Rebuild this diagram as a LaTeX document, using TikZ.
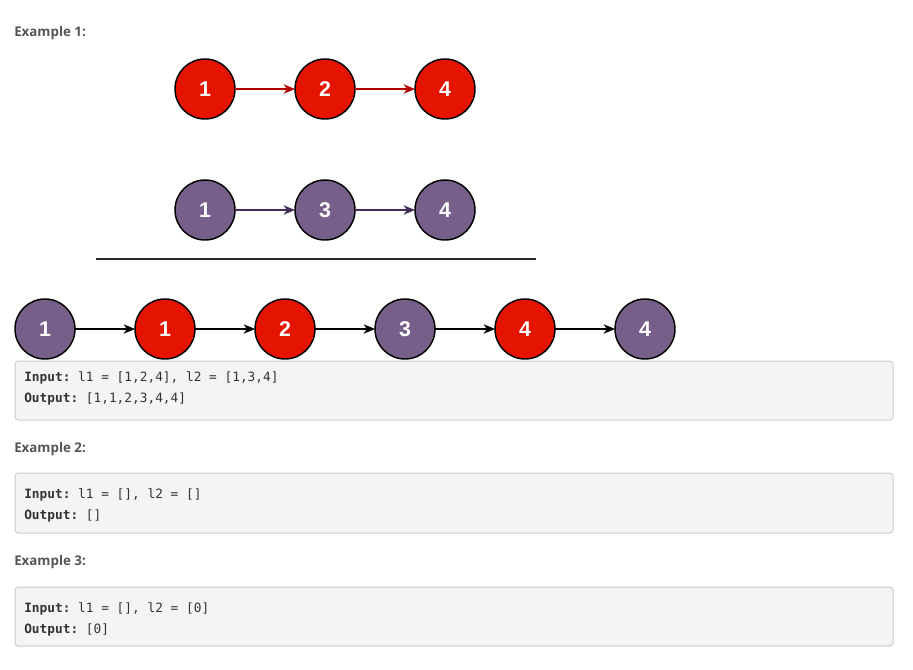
\documentclass[tikz,border=0pt]{standalone}
\usepackage{fontspec}
\setmainfont{Open Sans}
\setmonofont{DejaVu Sans Mono}
\newfontfamily\numfont{Liberation Sans}
\usepackage{xcolor}
\usetikzlibrary{arrows.meta,positioning}

\definecolor{nodered}{HTML}{E51400}
\definecolor{nodepurple}{HTML}{76608A}
\definecolor{arrred}{HTML}{B20000}
\definecolor{arrpurple}{HTML}{432D57}
\definecolor{headgray}{HTML}{555555}
\definecolor{codegray}{HTML}{333333}
\definecolor{boxfill}{HTML}{F4F4F4}
\definecolor{boxdraw}{HTML}{CCCCCC}

\begin{document}
\begin{tikzpicture}[
    x=0.75pt,y=-0.75pt,
    node distance=45pt,
    listnode/.style={circle,draw=black,line width=1.1pt,minimum size=45pt,inner sep=0pt,
                     outer sep=0pt,text=white,font=\numfont\fontsize{16}{18}\selectfont\bfseries},
    rednode/.style={listnode,fill=nodered},
    purplenode/.style={listnode,fill=nodepurple},
    arr/.style={-{Stealth[length=8.5pt,width=7pt,inset=2.5pt]},line width=1.1pt},
    heading/.style={anchor=base west,inner sep=0pt,text=headgray,
                    font=\fontsize{10}{12}\selectfont\bfseries},
    codebox/.style={draw=boxdraw,fill=boxfill,rounded corners=2.5pt,line width=0.75pt},
    codeline/.style={anchor=base west,inner sep=0pt,text=codegray,
                     font=\ttfamily\fontsize{9.6}{12}\selectfont}
]
\useasboundingbox (0,0) rectangle (913,669);

% Example 1 heading
\node[heading] (ex1) at (14,36) {Example 1:};

% first list
\node[rednode] (a1) at (205,89) {1};
\node[rednode,right=of a1] (a2) {2};
\node[rednode,right=of a2] (a4) {4};
\draw[arr,arrred] (a1) -- (a2);
\draw[arr,arrred] (a2) -- (a4);

% second list
\node[purplenode] (b1) at (205,210) {1};
\node[purplenode,right=of b1] (b3) {3};
\node[purplenode,right=of b3] (b4) {4};
\draw[arr,arrpurple] (b1) -- (b3);
\draw[arr,arrpurple] (b3) -- (b4);

% separator
\coordinate (sepl) at (96,259);
\coordinate (sepr) at (536,259);
\draw[line width=1.5pt,black!85] (sepl) -- (sepr);

% merged list
\node[purplenode] (m1) at (45,329) {1};
\node[rednode,right=of m1] (m2) {1};
\node[rednode,right=of m2] (m3) {2};
\node[purplenode,right=of m3] (m4) {3};
\node[rednode,right=of m4] (m5) {4};
\node[purplenode,right=of m5] (m6) {4};
\draw[arr,black] (m1) -- (m2);
\draw[arr,black] (m2) -- (m3);
\draw[arr,black] (m3) -- (m4);
\draw[arr,black] (m4) -- (m5);
\draw[arr,black] (m5) -- (m6);

% code boxes
\draw[codebox] (15,361) rectangle (893,420);
\node[codeline] (in1) at (24,381) {\textbf{Input:} l1 = [1,2,4], l2 = [1,3,4]};
\node[codeline] (out1) at (24,402) {\textbf{Output:} [1,1,2,3,4,4]};

\node[heading] (ex2) at (14,452) {Example 2:};
\draw[codebox] (15,473) rectangle (893,533);
\node[codeline] (in2) at (24,498) {\textbf{Input:} l1 = [], l2 = []};
\node[codeline] (out2) at (24,519) {\textbf{Output:} []};

\node[heading] (ex3) at (14,565) {Example 3:};
\draw[codebox] (15,587) rectangle (893,646);
\node[codeline] (in3) at (24,612) {\textbf{Input:} l1 = [], l2 = [0]};
\node[codeline] (out3) at (24,633) {\textbf{Output:} [0]};
\end{tikzpicture}
\end{document}
